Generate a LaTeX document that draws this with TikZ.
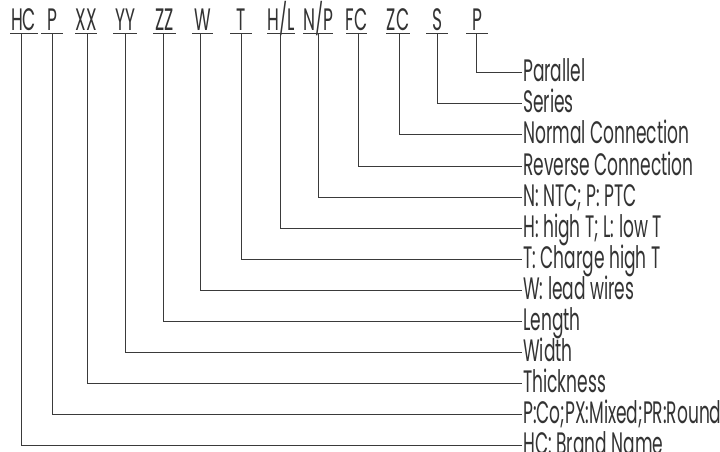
\documentclass[tikz,border=0pt]{standalone}
\usepackage{fontspec}
\setmainfont{Poppins}[FakeStretch=0.55]
\definecolor{ink}{HTML}{333333}
\definecolor{wire}{HTML}{3A3A3A}
\begin{document}
\begin{tikzpicture}[x=1pt,y=-1pt,
  toplab/.style={anchor=base,inner sep=0pt,font=\fontsize{31}{31}\selectfont,text=ink},
  desc/.style={anchor=west,inner sep=1.5pt,text height=19pt,text depth=0pt,font=\fontsize{31}{31}\selectfont,text=ink},
  uline/.style={draw=wire,line width=0.8pt},
  wireline/.style={draw=wire,line width=0.8pt}]
\useasboundingbox (0,0) rectangle (720,451);
% top code labels
\node[toplab] (tHC) at (23.5,30.5) {HC};
\node[toplab] (tP) at (52,30.5) {P};
\node[toplab] (tXX) at (86,30.5) {XX};
\node[toplab] (tYY) at (125,30.5) {YY};
\node[toplab] (tZZ) at (164.5,30.5) {ZZ};
\node[toplab] (tW) at (202.5,30.5) {W};
\node[toplab] (tT) at (241,30.5) {T};
\node[toplab] (tHL) at (281,30.5) {H/L};
\node[toplab] (tNP) at (318,30.5) {N/P};
\node[toplab] (tFC) at (356.5,30.5) {FC};
\node[toplab] (tZC) at (398,30.5) {ZC};
\node[toplab] (tS) at (437,30.5) {S};
\node[toplab] (tPP) at (477,30.5) {P};
% underlines
\foreach \a/\b in {10/38,41/63,75/97,113/137,153/176,192/213,230/252,267/295,303/333,346/367,386/410,426/448,466/488}
  \draw[uline] (\a,33.5) -- (\b,33.5);
% connector start points
\coordinate (cHC) at (21,33.5);
\coordinate (cP) at (52,33.5);
\coordinate (cXX) at (87,33.5);
\coordinate (cYY) at (125,33.5);
\coordinate (cZZ) at (163,33.5);
\coordinate (cW) at (200,33.5);
\coordinate (cT) at (241,33.5);
\coordinate (cHL) at (280,33.5);
\coordinate (cNP) at (318,33.5);
\coordinate (cFC) at (358,33.5);
\coordinate (cZC) at (399,33.5);
\coordinate (cS) at (437,33.5);
\coordinate (cPP) at (476,33.5);
% descriptions
\node[desc] (dPP) at (521.5,72) {Parallel};
\node[desc] (dS) at (521.5,103) {Series};
\node[desc] (dZC) at (521.5,134) {Normal Connection};
\node[desc] (dFC) at (521.5,166) {Reverse Connection};
\node[desc] (dNP) at (521.5,197) {N: NTC; P: PTC};
\node[desc] (dHL) at (521.5,228) {H: high T; L: low T};
\node[desc] (dT) at (521.5,259) {T: Charge high T};
\node[desc] (dW) at (521.5,290) {W: lead wires};
\node[desc] (dZZ) at (521.5,321) {Length};
\node[desc] (dYY) at (521.5,352) {Width};
\node[desc] (dXX) at (521.5,383) {Thickness};
\node[desc] (dP) at (521.5,414) {P:Co;PX:Mixed;PR:Round};
\node[desc] (dHC) at (521.5,445) {HC: Brand Name};
% connectors
\foreach \n in {HC,P,XX,YY,ZZ,W,T,HL,NP,FC,ZC,S,PP}
  \draw[wireline] (c\n) |- (d\n.west);
\end{tikzpicture}
\end{document}
